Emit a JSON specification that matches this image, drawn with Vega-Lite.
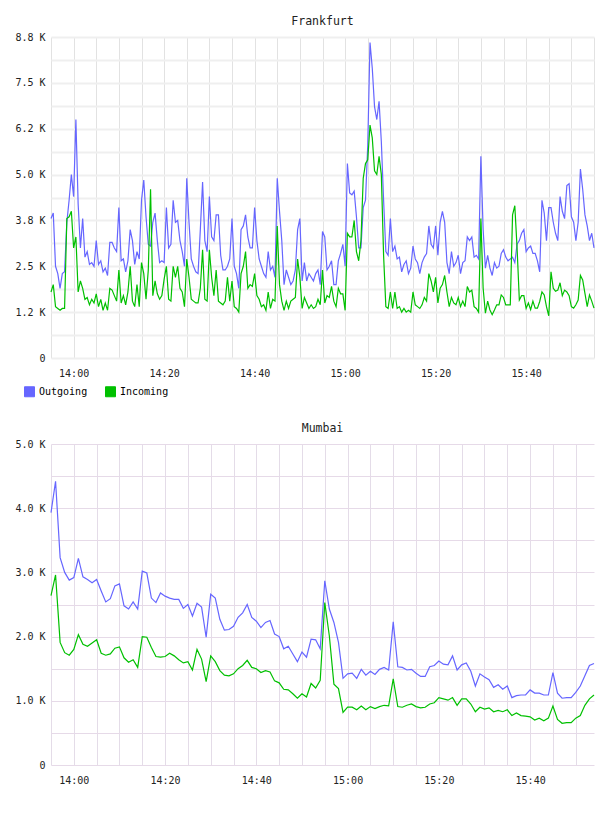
{
"$schema": "https://vega.github.io/schema/vega-lite/v6.json",
"padding": {"left": 14, "top": 15, "right": 14, "bottom": 26},
"spacing": 44,
"config": {
  "font": "DejaVu Sans Mono",
  "view": {"stroke": null},
  "axis": {"labelFont": "DejaVu Sans Mono", "labelFontSize": 10, "labelColor": "#222", "ticks": false, "domain": false},
  "title": {"font": "DejaVu Sans Mono", "fontSize": 11.5, "fontWeight": "normal", "color": "#222", "anchor": "middle", "offset": 5},
  "legend": {"labelFont": "DejaVu Sans Mono", "labelFontSize": 10, "labelColor": "#000", "symbolStrokeWidth": 1, "symbolType": "square", "symbolSize": 100, "symbolOpacity": 1, "padding": 0}
},
"vconcat": [
{
  "title": "Frankfurt",
  "width": 543, "height": 321,
  "data": {"values": [
{"t":"2024-01-01T13:55:00","Outgoing":3800,"Incoming":1800},{"t":"2024-01-01T13:55:30","Outgoing":3950,"Incoming":2000},{"t":"2024-01-01T13:56:00","Outgoing":2500,"Incoming":1400},{"t":"2024-01-01T13:56:30","Outgoing":2300,"Incoming":1350},{"t":"2024-01-01T13:57:00","Outgoing":1900,"Incoming":1300},{"t":"2024-01-01T13:57:30","Outgoing":2300,"Incoming":1350},{"t":"2024-01-01T13:58:00","Outgoing":2350,"Incoming":1350},{"t":"2024-01-01T13:58:30","Outgoing":3700,"Incoming":3800},{"t":"2024-01-01T13:59:00","Outgoing":4300,"Incoming":3850},{"t":"2024-01-01T13:59:30","Outgoing":5000,"Incoming":4000},
{"t":"2024-01-01T14:00:00","Outgoing":4400,"Incoming":3000},{"t":"2024-01-01T14:00:30","Outgoing":6500,"Incoming":3300},{"t":"2024-01-01T14:01:00","Outgoing":4200,"Incoming":1800},{"t":"2024-01-01T14:01:30","Outgoing":3000,"Incoming":2100},{"t":"2024-01-01T14:02:00","Outgoing":3800,"Incoming":1900},{"t":"2024-01-01T14:02:30","Outgoing":2750,"Incoming":1600},{"t":"2024-01-01T14:03:00","Outgoing":2900,"Incoming":1650},{"t":"2024-01-01T14:03:30","Outgoing":2550,"Incoming":1450},{"t":"2024-01-01T14:04:00","Outgoing":2600,"Incoming":1600},{"t":"2024-01-01T14:04:30","Outgoing":2500,"Incoming":1500},
{"t":"2024-01-01T14:05:00","Outgoing":3200,"Incoming":1750},{"t":"2024-01-01T14:05:30","Outgoing":2550,"Incoming":1400},{"t":"2024-01-01T14:06:00","Outgoing":2650,"Incoming":1600},{"t":"2024-01-01T14:06:30","Outgoing":2350,"Incoming":1300},{"t":"2024-01-01T14:07:00","Outgoing":2450,"Incoming":1500},{"t":"2024-01-01T14:07:30","Outgoing":2250,"Incoming":1300},{"t":"2024-01-01T14:08:00","Outgoing":3150,"Incoming":1900},{"t":"2024-01-01T14:08:30","Outgoing":3150,"Incoming":1850},{"t":"2024-01-01T14:09:00","Outgoing":3000,"Incoming":1700},{"t":"2024-01-01T14:09:30","Outgoing":2900,"Incoming":1550},
{"t":"2024-01-01T14:10:00","Outgoing":4100,"Incoming":2400},{"t":"2024-01-01T14:10:30","Outgoing":2650,"Incoming":1500},{"t":"2024-01-01T14:11:00","Outgoing":2700,"Incoming":1700},{"t":"2024-01-01T14:11:30","Outgoing":2350,"Incoming":1450},{"t":"2024-01-01T14:12:00","Outgoing":2650,"Incoming":1800},{"t":"2024-01-01T14:12:30","Outgoing":3500,"Incoming":2500},{"t":"2024-01-01T14:13:00","Outgoing":3200,"Incoming":1550},{"t":"2024-01-01T14:13:30","Outgoing":2550,"Incoming":1400},{"t":"2024-01-01T14:14:00","Outgoing":2900,"Incoming":2000},{"t":"2024-01-01T14:14:30","Outgoing":2700,"Incoming":1400},
{"t":"2024-01-01T14:15:00","Outgoing":4300,"Incoming":2600},{"t":"2024-01-01T14:15:30","Outgoing":4850,"Incoming":2300},{"t":"2024-01-01T14:16:00","Outgoing":3850,"Incoming":1600},{"t":"2024-01-01T14:16:30","Outgoing":3100,"Incoming":2400},{"t":"2024-01-01T14:17:00","Outgoing":3050,"Incoming":4600},{"t":"2024-01-01T14:17:30","Outgoing":3700,"Incoming":1700},{"t":"2024-01-01T14:18:00","Outgoing":3950,"Incoming":2100},{"t":"2024-01-01T14:18:30","Outgoing":3200,"Incoming":1750},{"t":"2024-01-01T14:19:00","Outgoing":2600,"Incoming":1600},{"t":"2024-01-01T14:19:30","Outgoing":2650,"Incoming":1700},
{"t":"2024-01-01T14:20:00","Outgoing":2600,"Incoming":2150},{"t":"2024-01-01T14:20:30","Outgoing":4100,"Incoming":2500},{"t":"2024-01-01T14:21:00","Outgoing":3000,"Incoming":1600},{"t":"2024-01-01T14:21:30","Outgoing":3100,"Incoming":1550},{"t":"2024-01-01T14:22:00","Outgoing":4300,"Incoming":2500},{"t":"2024-01-01T14:22:30","Outgoing":3700,"Incoming":2200},{"t":"2024-01-01T14:23:00","Outgoing":3750,"Incoming":2500},{"t":"2024-01-01T14:23:30","Outgoing":3200,"Incoming":1900},{"t":"2024-01-01T14:24:00","Outgoing":2900,"Incoming":1800},{"t":"2024-01-01T14:24:30","Outgoing":2500,"Incoming":1400},
{"t":"2024-01-01T14:25:00","Outgoing":4900,"Incoming":2700},{"t":"2024-01-01T14:25:30","Outgoing":3700,"Incoming":2200},{"t":"2024-01-01T14:26:00","Outgoing":2700,"Incoming":1600},{"t":"2024-01-01T14:26:30","Outgoing":2500,"Incoming":1550},{"t":"2024-01-01T14:27:00","Outgoing":2350,"Incoming":1500},{"t":"2024-01-01T14:27:30","Outgoing":2300,"Incoming":1500},{"t":"2024-01-01T14:28:00","Outgoing":3500,"Incoming":1900},{"t":"2024-01-01T14:28:30","Outgoing":4800,"Incoming":2950},{"t":"2024-01-01T14:29:00","Outgoing":3200,"Incoming":1600},{"t":"2024-01-01T14:29:30","Outgoing":2900,"Incoming":1550},
{"t":"2024-01-01T14:30:00","Outgoing":4400,"Incoming":2950},{"t":"2024-01-01T14:30:30","Outgoing":3300,"Incoming":2200},{"t":"2024-01-01T14:31:00","Outgoing":3200,"Incoming":1700},{"t":"2024-01-01T14:31:30","Outgoing":3900,"Incoming":2400},{"t":"2024-01-01T14:32:00","Outgoing":3900,"Incoming":1550},{"t":"2024-01-01T14:32:30","Outgoing":2800,"Incoming":1500},{"t":"2024-01-01T14:33:00","Outgoing":2400,"Incoming":1450},{"t":"2024-01-01T14:33:30","Outgoing":2400,"Incoming":1550},{"t":"2024-01-01T14:34:00","Outgoing":2500,"Incoming":2200},{"t":"2024-01-01T14:34:30","Outgoing":2700,"Incoming":1550},
{"t":"2024-01-01T14:35:00","Outgoing":3800,"Incoming":2100},{"t":"2024-01-01T14:35:30","Outgoing":2500,"Incoming":1400},{"t":"2024-01-01T14:36:00","Outgoing":2300,"Incoming":1350},{"t":"2024-01-01T14:36:30","Outgoing":1900,"Incoming":1250},{"t":"2024-01-01T14:37:00","Outgoing":3500,"Incoming":2300},{"t":"2024-01-01T14:37:30","Outgoing":3600,"Incoming":2500},{"t":"2024-01-01T14:38:00","Outgoing":3900,"Incoming":2900},{"t":"2024-01-01T14:38:30","Outgoing":3300,"Incoming":1900},{"t":"2024-01-01T14:39:00","Outgoing":3000,"Incoming":2000},{"t":"2024-01-01T14:39:30","Outgoing":3000,"Incoming":1950},
{"t":"2024-01-01T14:40:00","Outgoing":4100,"Incoming":2300},{"t":"2024-01-01T14:40:30","Outgoing":3200,"Incoming":1700},{"t":"2024-01-01T14:41:00","Outgoing":2700,"Incoming":1600},{"t":"2024-01-01T14:41:30","Outgoing":2500,"Incoming":1400},{"t":"2024-01-01T14:42:00","Outgoing":2300,"Incoming":1450},{"t":"2024-01-01T14:42:30","Outgoing":2200,"Incoming":1300},{"t":"2024-01-01T14:43:00","Outgoing":2900,"Incoming":1800},{"t":"2024-01-01T14:43:30","Outgoing":2400,"Incoming":1350},{"t":"2024-01-01T14:44:00","Outgoing":2500,"Incoming":1600},{"t":"2024-01-01T14:44:30","Outgoing":2200,"Incoming":1550},
{"t":"2024-01-01T14:45:00","Outgoing":4900,"Incoming":3600},{"t":"2024-01-01T14:45:30","Outgoing":4000,"Incoming":2000},{"t":"2024-01-01T14:46:00","Outgoing":3200,"Incoming":1550},{"t":"2024-01-01T14:46:30","Outgoing":2000,"Incoming":1300},{"t":"2024-01-01T14:47:00","Outgoing":2400,"Incoming":1550},{"t":"2024-01-01T14:47:30","Outgoing":2200,"Incoming":1350},{"t":"2024-01-01T14:48:00","Outgoing":2000,"Incoming":1550},{"t":"2024-01-01T14:48:30","Outgoing":2100,"Incoming":1600},{"t":"2024-01-01T14:49:00","Outgoing":2400,"Incoming":1650},{"t":"2024-01-01T14:49:30","Outgoing":3500,"Incoming":2700},
{"t":"2024-01-01T14:50:00","Outgoing":3800,"Incoming":2200},{"t":"2024-01-01T14:50:30","Outgoing":2100,"Incoming":1350},{"t":"2024-01-01T14:51:00","Outgoing":2600,"Incoming":1650},{"t":"2024-01-01T14:51:30","Outgoing":2100,"Incoming":1500},{"t":"2024-01-01T14:52:00","Outgoing":2300,"Incoming":1350},{"t":"2024-01-01T14:52:30","Outgoing":2200,"Incoming":1450},{"t":"2024-01-01T14:53:00","Outgoing":2100,"Incoming":1350},{"t":"2024-01-01T14:53:30","Outgoing":2300,"Incoming":1400},{"t":"2024-01-01T14:54:00","Outgoing":2400,"Incoming":1600},{"t":"2024-01-01T14:54:30","Outgoing":2000,"Incoming":1450},
{"t":"2024-01-01T14:55:00","Outgoing":3450,"Incoming":2400},{"t":"2024-01-01T14:55:30","Outgoing":3300,"Incoming":1500},{"t":"2024-01-01T14:56:00","Outgoing":2400,"Incoming":1700},{"t":"2024-01-01T14:56:30","Outgoing":2500,"Incoming":1650},{"t":"2024-01-01T14:57:00","Outgoing":2650,"Incoming":1950},{"t":"2024-01-01T14:57:30","Outgoing":2000,"Incoming":1550},{"t":"2024-01-01T14:58:00","Outgoing":2000,"Incoming":1400},{"t":"2024-01-01T14:58:30","Outgoing":2650,"Incoming":1900},{"t":"2024-01-01T14:59:00","Outgoing":2850,"Incoming":1750},{"t":"2024-01-01T14:59:30","Outgoing":3100,"Incoming":1750},
{"t":"2024-01-01T15:00:00","Outgoing":2500,"Incoming":1300},{"t":"2024-01-01T15:00:30","Outgoing":5300,"Incoming":3400},{"t":"2024-01-01T15:01:00","Outgoing":4500,"Incoming":3300},{"t":"2024-01-01T15:01:30","Outgoing":4450,"Incoming":3300},{"t":"2024-01-01T15:02:00","Outgoing":4550,"Incoming":3750},{"t":"2024-01-01T15:02:30","Outgoing":3850,"Incoming":2900},{"t":"2024-01-01T15:03:00","Outgoing":3000,"Incoming":2650},{"t":"2024-01-01T15:03:30","Outgoing":3000,"Incoming":3200},{"t":"2024-01-01T15:04:00","Outgoing":4100,"Incoming":4900},{"t":"2024-01-01T15:04:30","Outgoing":4300,"Incoming":5300},
{"t":"2024-01-01T15:05:00","Outgoing":5800,"Incoming":5400},{"t":"2024-01-01T15:05:30","Outgoing":8600,"Incoming":6350},{"t":"2024-01-01T15:06:00","Outgoing":7900,"Incoming":6000},{"t":"2024-01-01T15:06:30","Outgoing":6850,"Incoming":5100},{"t":"2024-01-01T15:07:00","Outgoing":6500,"Incoming":5000},{"t":"2024-01-01T15:07:30","Outgoing":7000,"Incoming":5500},{"t":"2024-01-01T15:08:00","Outgoing":5900,"Incoming":5000},{"t":"2024-01-01T15:08:30","Outgoing":4300,"Incoming":2800},{"t":"2024-01-01T15:09:00","Outgoing":2900,"Incoming":1400},{"t":"2024-01-01T15:09:30","Outgoing":2800,"Incoming":1350},
{"t":"2024-01-01T15:10:00","Outgoing":3800,"Incoming":1800},{"t":"2024-01-01T15:10:30","Outgoing":2900,"Incoming":1350},{"t":"2024-01-01T15:11:00","Outgoing":3050,"Incoming":1800},{"t":"2024-01-01T15:11:30","Outgoing":2700,"Incoming":1350},{"t":"2024-01-01T15:12:00","Outgoing":2750,"Incoming":1400},{"t":"2024-01-01T15:12:30","Outgoing":2350,"Incoming":1250},{"t":"2024-01-01T15:13:00","Outgoing":2550,"Incoming":1350},{"t":"2024-01-01T15:13:30","Outgoing":2650,"Incoming":1250},{"t":"2024-01-01T15:14:00","Outgoing":2300,"Incoming":1300},{"t":"2024-01-01T15:14:30","Outgoing":2450,"Incoming":1250},
{"t":"2024-01-01T15:15:00","Outgoing":3050,"Incoming":1800},{"t":"2024-01-01T15:15:30","Outgoing":2700,"Incoming":1450},{"t":"2024-01-01T15:16:00","Outgoing":2600,"Incoming":1400},{"t":"2024-01-01T15:16:30","Outgoing":2300,"Incoming":1350},{"t":"2024-01-01T15:17:00","Outgoing":2600,"Incoming":1450},{"t":"2024-01-01T15:17:30","Outgoing":2750,"Incoming":1650},{"t":"2024-01-01T15:18:00","Outgoing":2850,"Incoming":1550},{"t":"2024-01-01T15:18:30","Outgoing":3600,"Incoming":2300},{"t":"2024-01-01T15:19:00","Outgoing":3100,"Incoming":2100},{"t":"2024-01-01T15:19:30","Outgoing":3000,"Incoming":1800},
{"t":"2024-01-01T15:20:00","Outgoing":3600,"Incoming":2200},{"t":"2024-01-01T15:20:30","Outgoing":2800,"Incoming":1500},{"t":"2024-01-01T15:21:00","Outgoing":3700,"Incoming":1900},{"t":"2024-01-01T15:21:30","Outgoing":4000,"Incoming":2000},{"t":"2024-01-01T15:22:00","Outgoing":3700,"Incoming":2250},{"t":"2024-01-01T15:22:30","Outgoing":2600,"Incoming":1800},{"t":"2024-01-01T15:23:00","Outgoing":2300,"Incoming":1400},{"t":"2024-01-01T15:23:30","Outgoing":2900,"Incoming":1650},{"t":"2024-01-01T15:24:00","Outgoing":2500,"Incoming":1500},{"t":"2024-01-01T15:24:30","Outgoing":2600,"Incoming":1450},
{"t":"2024-01-01T15:25:00","Outgoing":2800,"Incoming":1650},{"t":"2024-01-01T15:25:30","Outgoing":2300,"Incoming":1400},{"t":"2024-01-01T15:26:00","Outgoing":2600,"Incoming":1550},{"t":"2024-01-01T15:26:30","Outgoing":2650,"Incoming":1400},{"t":"2024-01-01T15:27:00","Outgoing":3300,"Incoming":1950},{"t":"2024-01-01T15:27:30","Outgoing":3200,"Incoming":1800},{"t":"2024-01-01T15:28:00","Outgoing":3300,"Incoming":1850},{"t":"2024-01-01T15:28:30","Outgoing":2750,"Incoming":1400},{"t":"2024-01-01T15:29:00","Outgoing":2800,"Incoming":1350},{"t":"2024-01-01T15:29:30","Outgoing":2700,"Incoming":1250},
{"t":"2024-01-01T15:30:00","Outgoing":5500,"Incoming":3800},{"t":"2024-01-01T15:30:30","Outgoing":3500,"Incoming":1900},{"t":"2024-01-01T15:31:00","Outgoing":2450,"Incoming":1220},{"t":"2024-01-01T15:31:30","Outgoing":2800,"Incoming":1550},{"t":"2024-01-01T15:32:00","Outgoing":2450,"Incoming":1310},{"t":"2024-01-01T15:32:30","Outgoing":2250,"Incoming":1180},{"t":"2024-01-01T15:33:00","Outgoing":2600,"Incoming":1310},{"t":"2024-01-01T15:33:30","Outgoing":2450,"Incoming":1450},{"t":"2024-01-01T15:34:00","Outgoing":2500,"Incoming":1450},{"t":"2024-01-01T15:34:30","Outgoing":2850,"Incoming":1720},
{"t":"2024-01-01T15:35:00","Outgoing":2950,"Incoming":1650},{"t":"2024-01-01T15:35:30","Outgoing":2750,"Incoming":1450},{"t":"2024-01-01T15:36:00","Outgoing":2650,"Incoming":1450},{"t":"2024-01-01T15:36:30","Outgoing":2700,"Incoming":1450},{"t":"2024-01-01T15:37:00","Outgoing":2750,"Incoming":3900},{"t":"2024-01-01T15:37:30","Outgoing":2600,"Incoming":4150},{"t":"2024-01-01T15:38:00","Outgoing":3100,"Incoming":3000},{"t":"2024-01-01T15:38:30","Outgoing":3200,"Incoming":1580},{"t":"2024-01-01T15:39:00","Outgoing":3400,"Incoming":1700},{"t":"2024-01-01T15:39:30","Outgoing":3500,"Incoming":1700},
{"t":"2024-01-01T15:40:00","Outgoing":2900,"Incoming":1350},{"t":"2024-01-01T15:40:30","Outgoing":3000,"Incoming":1500},{"t":"2024-01-01T15:41:00","Outgoing":3050,"Incoming":1320},{"t":"2024-01-01T15:41:30","Outgoing":2850,"Incoming":1550},{"t":"2024-01-01T15:42:00","Outgoing":2850,"Incoming":1360},{"t":"2024-01-01T15:42:30","Outgoing":2650,"Incoming":1360},{"t":"2024-01-01T15:43:00","Outgoing":2350,"Incoming":1540},{"t":"2024-01-01T15:43:30","Outgoing":4300,"Incoming":1800},{"t":"2024-01-01T15:44:00","Outgoing":3950,"Incoming":1720},{"t":"2024-01-01T15:44:30","Outgoing":3200,"Incoming":1400},
{"t":"2024-01-01T15:45:00","Outgoing":4100,"Incoming":1150},{"t":"2024-01-01T15:45:30","Outgoing":4100,"Incoming":2350},{"t":"2024-01-01T15:46:00","Outgoing":3700,"Incoming":1900},{"t":"2024-01-01T15:46:30","Outgoing":3400,"Incoming":1820},{"t":"2024-01-01T15:47:00","Outgoing":3200,"Incoming":1850},{"t":"2024-01-01T15:47:30","Outgoing":4400,"Incoming":2050},{"t":"2024-01-01T15:48:00","Outgoing":4000,"Incoming":1700},{"t":"2024-01-01T15:48:30","Outgoing":3800,"Incoming":1850},{"t":"2024-01-01T15:49:00","Outgoing":4700,"Incoming":1800},{"t":"2024-01-01T15:49:30","Outgoing":4750,"Incoming":1700},
{"t":"2024-01-01T15:50:00","Outgoing":3850,"Incoming":1400},{"t":"2024-01-01T15:50:30","Outgoing":3700,"Incoming":1360},{"t":"2024-01-01T15:51:00","Outgoing":3200,"Incoming":1450},{"t":"2024-01-01T15:51:30","Outgoing":3700,"Incoming":1580},{"t":"2024-01-01T15:52:00","Outgoing":5150,"Incoming":2250},{"t":"2024-01-01T15:52:30","Outgoing":4600,"Incoming":2130},{"t":"2024-01-01T15:53:00","Outgoing":3900,"Incoming":1760},{"t":"2024-01-01T15:53:30","Outgoing":3600,"Incoming":1400},{"t":"2024-01-01T15:54:00","Outgoing":3200,"Incoming":1720},{"t":"2024-01-01T15:54:30","Outgoing":3400,"Incoming":1550},
{"t":"2024-01-01T15:55:00","Outgoing":3000,"Incoming":1360}
  ]},
  "transform": [{"fold": ["Outgoing", "Incoming"], "as": ["series", "rate"]}],
  "encoding": {
    "x": {"field": "t", "type": "temporal", "title": null, "scale": {"nice": false},
      "axis": {"values": [
        {"year":2024,"month":1,"date":1,"hours":13,"minutes":55},{"year":2024,"month":1,"date":1,"hours":14,"minutes":0},{"year":2024,"month":1,"date":1,"hours":14,"minutes":5},{"year":2024,"month":1,"date":1,"hours":14,"minutes":10},{"year":2024,"month":1,"date":1,"hours":14,"minutes":15},{"year":2024,"month":1,"date":1,"hours":14,"minutes":20},{"year":2024,"month":1,"date":1,"hours":14,"minutes":25},{"year":2024,"month":1,"date":1,"hours":14,"minutes":30},{"year":2024,"month":1,"date":1,"hours":14,"minutes":35},{"year":2024,"month":1,"date":1,"hours":14,"minutes":40},{"year":2024,"month":1,"date":1,"hours":14,"minutes":45},{"year":2024,"month":1,"date":1,"hours":14,"minutes":50},{"year":2024,"month":1,"date":1,"hours":14,"minutes":55},
        {"year":2024,"month":1,"date":1,"hours":15,"minutes":0},{"year":2024,"month":1,"date":1,"hours":15,"minutes":5},{"year":2024,"month":1,"date":1,"hours":15,"minutes":10},{"year":2024,"month":1,"date":1,"hours":15,"minutes":15},{"year":2024,"month":1,"date":1,"hours":15,"minutes":20},{"year":2024,"month":1,"date":1,"hours":15,"minutes":25},{"year":2024,"month":1,"date":1,"hours":15,"minutes":30},{"year":2024,"month":1,"date":1,"hours":15,"minutes":35},{"year":2024,"month":1,"date":1,"hours":15,"minutes":40},{"year":2024,"month":1,"date":1,"hours":15,"minutes":45},{"year":2024,"month":1,"date":1,"hours":15,"minutes":50},{"year":2024,"month":1,"date":1,"hours":15,"minutes":55}],
        "labelExpr": "minutes(datum.value) % 20 == 0 ? timeFormat(datum.value, '%H:%M') : ''", "labelOverlap": false, "labelFlush": false, "labelPadding": 10, "gridColor": "#e2e2e2", "gridWidth": 1}},
    "y": {"field": "rate", "type": "quantitative", "title": null, "scale": {"domain": [0, 8750], "nice": false},
      "axis": {"values": [0,625,1250,1875,2500,3125,3750,4375,5000,5625,6250,6875,7500,8125,8750], "labelExpr": "datum.value == 0 ? '0' : datum.value % 1250 != 0 ? '' : datum.value == 1250 ? '1.2 K' : datum.value == 6250 ? '6.2 K' : format(datum.value / 1000, '.1f') + ' K'", "labelOverlap": false, "labelPadding": 6, "gridColor": "#efefef", "gridWidth": 2}}
  },
  "layer": [
    {"mark": {"type": "line", "strokeWidth": 1.2},
     "encoding": {"stroke": {"field": "series", "type": "nominal", "scale": {"domain": ["Outgoing", "Incoming"], "range": ["#6666ff", "#00c000"]},
       "legend": {"title": null, "orient": "none", "legendX": -27, "legendY": 349, "direction": "horizontal", "labelOffset": 4, "columnPadding": 15}}}},
    {"transform": [{"filter": "false"}],
     "mark": {"type": "point", "filled": true, "shape": "square", "opacity": 1},
     "encoding": {"color": {"field": "series", "type": "nominal", "scale": {"domain": ["Outgoing", "Incoming"], "range": ["#6666ff", "#00c000"]},
       "legend": {"title": null, "orient": "none", "legendX": -27, "legendY": 349, "direction": "horizontal", "labelOffset": 4, "columnPadding": 15}}}}
  ]
},
{
  "title": "Mumbai",
  "width": 543, "height": 321,
  "data": {"values": [
{"t":"2024-01-01T13:55","Outgoing":3930,"Incoming":2640},{"t":"2024-01-01T13:56","Outgoing":4420,"Incoming":2960},{"t":"2024-01-01T13:57","Outgoing":3230,"Incoming":1910},{"t":"2024-01-01T13:58","Outgoing":3000,"Incoming":1750},{"t":"2024-01-01T13:59","Outgoing":2880,"Incoming":1710},
{"t":"2024-01-01T14:00","Outgoing":2920,"Incoming":1800},{"t":"2024-01-01T14:01","Outgoing":3220,"Incoming":2030},{"t":"2024-01-01T14:02","Outgoing":2930,"Incoming":1880},{"t":"2024-01-01T14:03","Outgoing":2890,"Incoming":1850},{"t":"2024-01-01T14:04","Outgoing":2840,"Incoming":1900},
{"t":"2024-01-01T14:05","Outgoing":2890,"Incoming":1950},{"t":"2024-01-01T14:06","Outgoing":2710,"Incoming":1740},{"t":"2024-01-01T14:07","Outgoing":2540,"Incoming":1710},{"t":"2024-01-01T14:08","Outgoing":2590,"Incoming":1730},{"t":"2024-01-01T14:09","Outgoing":2790,"Incoming":1820},
{"t":"2024-01-01T14:10","Outgoing":2820,"Incoming":1840},{"t":"2024-01-01T14:11","Outgoing":2480,"Incoming":1670},{"t":"2024-01-01T14:12","Outgoing":2430,"Incoming":1600},{"t":"2024-01-01T14:13","Outgoing":2540,"Incoming":1640},{"t":"2024-01-01T14:14","Outgoing":2430,"Incoming":1520},
{"t":"2024-01-01T14:15","Outgoing":3020,"Incoming":2000},{"t":"2024-01-01T14:16","Outgoing":2990,"Incoming":1990},{"t":"2024-01-01T14:17","Outgoing":2600,"Incoming":1830},{"t":"2024-01-01T14:18","Outgoing":2530,"Incoming":1690},{"t":"2024-01-01T14:19","Outgoing":2680,"Incoming":1680},
{"t":"2024-01-01T14:20","Outgoing":2630,"Incoming":1690},{"t":"2024-01-01T14:21","Outgoing":2600,"Incoming":1740},{"t":"2024-01-01T14:22","Outgoing":2580,"Incoming":1700},{"t":"2024-01-01T14:23","Outgoing":2580,"Incoming":1640},{"t":"2024-01-01T14:24","Outgoing":2440,"Incoming":1590},
{"t":"2024-01-01T14:25","Outgoing":2500,"Incoming":1610},{"t":"2024-01-01T14:26","Outgoing":2320,"Incoming":1480},{"t":"2024-01-01T14:27","Outgoing":2520,"Incoming":1800},{"t":"2024-01-01T14:28","Outgoing":2460,"Incoming":1650},{"t":"2024-01-01T14:29","Outgoing":1990,"Incoming":1300},
{"t":"2024-01-01T14:30","Outgoing":2660,"Incoming":1700},{"t":"2024-01-01T14:31","Outgoing":2600,"Incoming":1610},{"t":"2024-01-01T14:32","Outgoing":2270,"Incoming":1470},{"t":"2024-01-01T14:33","Outgoing":2100,"Incoming":1400},{"t":"2024-01-01T14:34","Outgoing":2110,"Incoming":1390},
{"t":"2024-01-01T14:35","Outgoing":2160,"Incoming":1420},{"t":"2024-01-01T14:36","Outgoing":2300,"Incoming":1500},{"t":"2024-01-01T14:37","Outgoing":2370,"Incoming":1550},{"t":"2024-01-01T14:38","Outgoing":2500,"Incoming":1630},{"t":"2024-01-01T14:39","Outgoing":2300,"Incoming":1520},
{"t":"2024-01-01T14:40","Outgoing":2240,"Incoming":1500},{"t":"2024-01-01T14:41","Outgoing":2140,"Incoming":1440},{"t":"2024-01-01T14:42","Outgoing":2220,"Incoming":1470},{"t":"2024-01-01T14:43","Outgoing":2250,"Incoming":1450},{"t":"2024-01-01T14:44","Outgoing":2040,"Incoming":1310},
{"t":"2024-01-01T14:45","Outgoing":2000,"Incoming":1280},{"t":"2024-01-01T14:46","Outgoing":1810,"Incoming":1180},{"t":"2024-01-01T14:47","Outgoing":1850,"Incoming":1170},{"t":"2024-01-01T14:48","Outgoing":1730,"Incoming":1110},{"t":"2024-01-01T14:49","Outgoing":1610,"Incoming":1040},
{"t":"2024-01-01T14:50","Outgoing":1760,"Incoming":1110},{"t":"2024-01-01T14:51","Outgoing":1680,"Incoming":1060},{"t":"2024-01-01T14:52","Outgoing":1960,"Incoming":1270},{"t":"2024-01-01T14:53","Outgoing":1950,"Incoming":1200},{"t":"2024-01-01T14:54","Outgoing":1810,"Incoming":1320},
{"t":"2024-01-01T14:55","Outgoing":2870,"Incoming":2530},{"t":"2024-01-01T14:56","Outgoing":2430,"Incoming":2010},{"t":"2024-01-01T14:57","Outgoing":2220,"Incoming":1260},{"t":"2024-01-01T14:58","Outgoing":1910,"Incoming":1190},{"t":"2024-01-01T14:59","Outgoing":1350,"Incoming":820},
{"t":"2024-01-01T15:00","Outgoing":1420,"Incoming":900},{"t":"2024-01-01T15:01","Outgoing":1430,"Incoming":900},{"t":"2024-01-01T15:02","Outgoing":1350,"Incoming":860},{"t":"2024-01-01T15:03","Outgoing":1490,"Incoming":920},{"t":"2024-01-01T15:04","Outgoing":1400,"Incoming":860},
{"t":"2024-01-01T15:05","Outgoing":1460,"Incoming":910},{"t":"2024-01-01T15:06","Outgoing":1410,"Incoming":880},{"t":"2024-01-01T15:07","Outgoing":1490,"Incoming":910},{"t":"2024-01-01T15:08","Outgoing":1520,"Incoming":930},{"t":"2024-01-01T15:09","Outgoing":1480,"Incoming":920},
{"t":"2024-01-01T15:10","Outgoing":2230,"Incoming":1340},{"t":"2024-01-01T15:11","Outgoing":1530,"Incoming":910},{"t":"2024-01-01T15:12","Outgoing":1520,"Incoming":900},{"t":"2024-01-01T15:13","Outgoing":1480,"Incoming":930},{"t":"2024-01-01T15:14","Outgoing":1490,"Incoming":950},
{"t":"2024-01-01T15:15","Outgoing":1430,"Incoming":910},{"t":"2024-01-01T15:16","Outgoing":1380,"Incoming":890},{"t":"2024-01-01T15:17","Outgoing":1380,"Incoming":900},{"t":"2024-01-01T15:18","Outgoing":1530,"Incoming":950},{"t":"2024-01-01T15:19","Outgoing":1550,"Incoming":970},
{"t":"2024-01-01T15:20","Outgoing":1620,"Incoming":1050},{"t":"2024-01-01T15:21","Outgoing":1570,"Incoming":1030},{"t":"2024-01-01T15:22","Outgoing":1560,"Incoming":1010},{"t":"2024-01-01T15:23","Outgoing":1700,"Incoming":1050},{"t":"2024-01-01T15:24","Outgoing":1480,"Incoming":930},
{"t":"2024-01-01T15:25","Outgoing":1560,"Incoming":1030},{"t":"2024-01-01T15:26","Outgoing":1590,"Incoming":1030},{"t":"2024-01-01T15:27","Outgoing":1460,"Incoming":950},{"t":"2024-01-01T15:28","Outgoing":1230,"Incoming":830},{"t":"2024-01-01T15:29","Outgoing":1420,"Incoming":900},
{"t":"2024-01-01T15:30","Outgoing":1370,"Incoming":870},{"t":"2024-01-01T15:31","Outgoing":1330,"Incoming":890},{"t":"2024-01-01T15:32","Outgoing":1210,"Incoming":830},{"t":"2024-01-01T15:33","Outgoing":1250,"Incoming":850},{"t":"2024-01-01T15:34","Outgoing":1180,"Incoming":830},
{"t":"2024-01-01T15:35","Outgoing":1230,"Incoming":860},{"t":"2024-01-01T15:36","Outgoing":1050,"Incoming":770},{"t":"2024-01-01T15:37","Outgoing":1080,"Incoming":810},{"t":"2024-01-01T15:38","Outgoing":1090,"Incoming":770},{"t":"2024-01-01T15:39","Outgoing":1090,"Incoming":760},
{"t":"2024-01-01T15:40","Outgoing":1170,"Incoming":750},{"t":"2024-01-01T15:41","Outgoing":1120,"Incoming":700},{"t":"2024-01-01T15:42","Outgoing":1120,"Incoming":730},{"t":"2024-01-01T15:43","Outgoing":1090,"Incoming":690},{"t":"2024-01-01T15:44","Outgoing":1090,"Incoming":730},
{"t":"2024-01-01T15:45","Outgoing":1440,"Incoming":920},{"t":"2024-01-01T15:46","Outgoing":1120,"Incoming":710},{"t":"2024-01-01T15:47","Outgoing":1040,"Incoming":650},{"t":"2024-01-01T15:48","Outgoing":1050,"Incoming":660},{"t":"2024-01-01T15:49","Outgoing":1050,"Incoming":660},
{"t":"2024-01-01T15:50","Outgoing":1130,"Incoming":730},{"t":"2024-01-01T15:51","Outgoing":1230,"Incoming":770},{"t":"2024-01-01T15:52","Outgoing":1390,"Incoming":930},{"t":"2024-01-01T15:53","Outgoing":1550,"Incoming":1030},{"t":"2024-01-01T15:54","Outgoing":1580,"Incoming":1090}
  ]},
  "transform": [{"fold": ["Outgoing", "Incoming"], "as": ["series", "rate"]}],
  "encoding": {
    "x": {"field": "t", "type": "temporal", "title": null, "scale": {"nice": false},
      "axis": {"values": [
        {"year":2024,"month":1,"date":1,"hours":13,"minutes":55},{"year":2024,"month":1,"date":1,"hours":14,"minutes":0},{"year":2024,"month":1,"date":1,"hours":14,"minutes":5},{"year":2024,"month":1,"date":1,"hours":14,"minutes":10},{"year":2024,"month":1,"date":1,"hours":14,"minutes":15},{"year":2024,"month":1,"date":1,"hours":14,"minutes":20},{"year":2024,"month":1,"date":1,"hours":14,"minutes":25},{"year":2024,"month":1,"date":1,"hours":14,"minutes":30},{"year":2024,"month":1,"date":1,"hours":14,"minutes":35},{"year":2024,"month":1,"date":1,"hours":14,"minutes":40},{"year":2024,"month":1,"date":1,"hours":14,"minutes":45},{"year":2024,"month":1,"date":1,"hours":14,"minutes":50},{"year":2024,"month":1,"date":1,"hours":14,"minutes":55},
        {"year":2024,"month":1,"date":1,"hours":15,"minutes":0},{"year":2024,"month":1,"date":1,"hours":15,"minutes":5},{"year":2024,"month":1,"date":1,"hours":15,"minutes":10},{"year":2024,"month":1,"date":1,"hours":15,"minutes":15},{"year":2024,"month":1,"date":1,"hours":15,"minutes":20},{"year":2024,"month":1,"date":1,"hours":15,"minutes":25},{"year":2024,"month":1,"date":1,"hours":15,"minutes":30},{"year":2024,"month":1,"date":1,"hours":15,"minutes":35},{"year":2024,"month":1,"date":1,"hours":15,"minutes":40},{"year":2024,"month":1,"date":1,"hours":15,"minutes":45},{"year":2024,"month":1,"date":1,"hours":15,"minutes":50}],
        "labelExpr": "minutes(datum.value) % 20 == 0 ? timeFormat(datum.value, '%H:%M') : ''", "labelOverlap": false, "labelFlush": false, "labelPadding": 10, "gridWidth": 1, "gridColor": "#e4dce8"}},
    "y": {"field": "rate", "type": "quantitative", "title": null, "scale": {"domain": [0, 5000], "nice": false},
      "axis": {"values": [0,500,1000,1500,2000,2500,3000,3500,4000,4500,5000], "labelExpr": "datum.value == 0 ? '0' : datum.value % 1000 != 0 ? '' : format(datum.value / 1000, '.1f') + ' K'", "labelOverlap": false, "labelPadding": 6, "gridWidth": 1, "gridColor": "#e6dae8"}}
  },
  "layer": [
    {"mark": {"type": "line", "strokeWidth": 1.2},
     "encoding": {"stroke": {"field": "series", "type": "nominal", "scale": {"domain": ["Outgoing", "Incoming"], "range": ["#6666ff", "#00c000"]},
       "legend": {"title": null, "orient": "none", "legendX": -27, "legendY": 350, "direction": "horizontal", "labelOffset": 4, "columnPadding": 15}}}},
    {"transform": [{"filter": "false"}],
     "mark": {"type": "point", "filled": true, "shape": "square", "opacity": 1},
     "encoding": {"color": {"field": "series", "type": "nominal", "scale": {"domain": ["Outgoing", "Incoming"], "range": ["#6666ff", "#00c000"]},
       "legend": {"title": null, "orient": "none", "legendX": -27, "legendY": 350, "direction": "horizontal", "labelOffset": 4, "columnPadding": 15}}}}
  ]
}
]
}
